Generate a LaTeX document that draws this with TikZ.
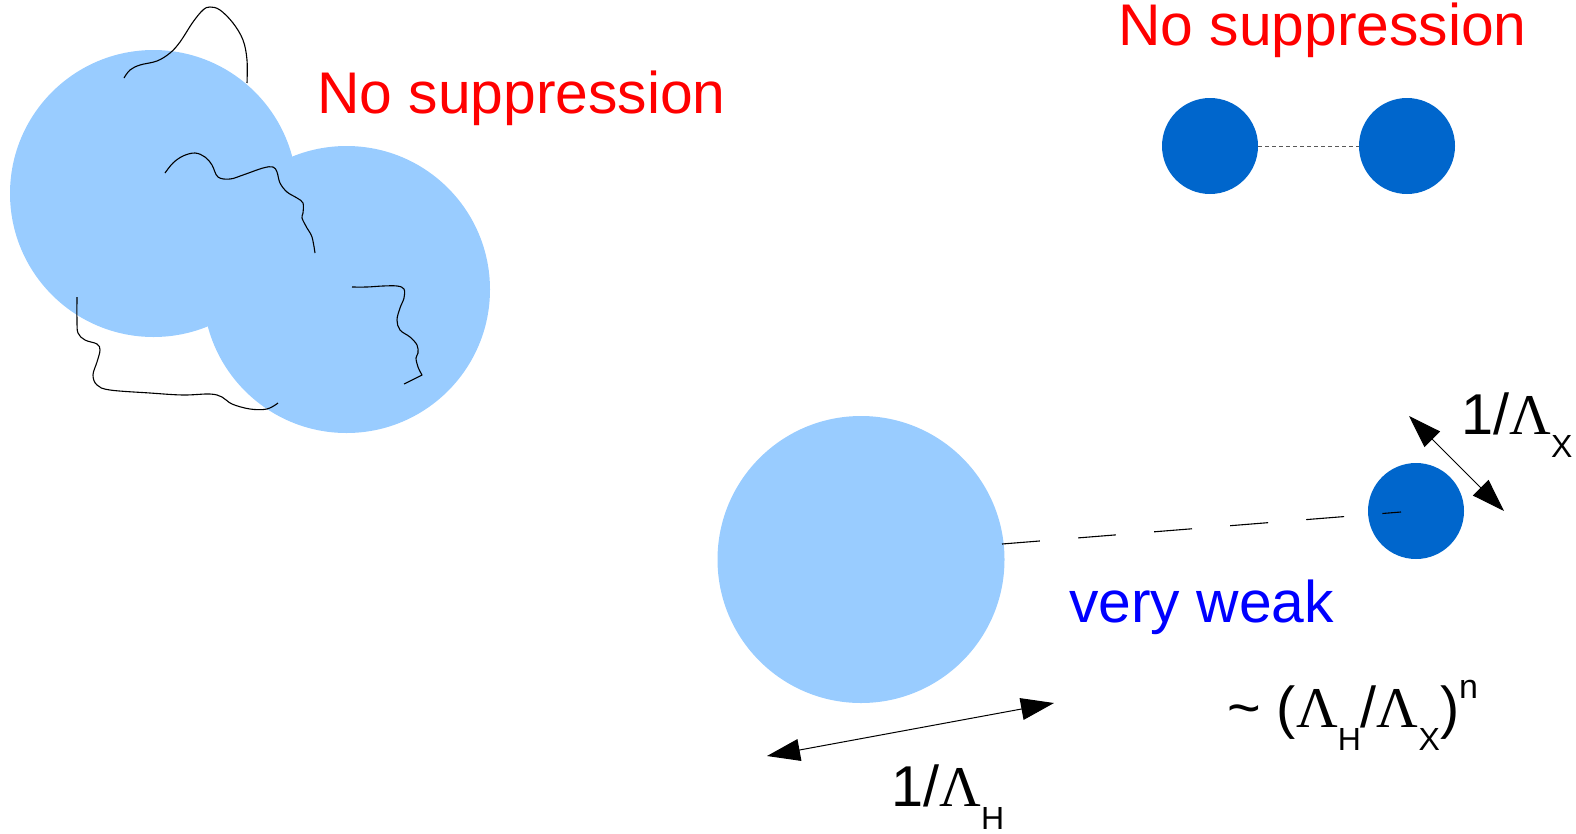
\documentclass[tikz,border=0pt]{standalone}
\usepackage{fontspec}
\setmainfont{Liberation Sans}
\newfontfamily\lamfont{Liberation Serif}
\usetikzlibrary{arrows.meta}
\definecolor{lightblob}{HTML}{99CCFF}
\definecolor{darkblob}{HTML}{0066CC}
\definecolor{supred}{HTML}{FF0000}
\definecolor{weakblue}{HTML}{0000FF}
\newcommand\subtxt[1]{\raisebox{-23.5pt}{\fontsize{32}{32}\selectfont #1}}
\newcommand\suptxt[1]{\raisebox{29pt}{\fontsize{34}{34}\selectfont #1}}
\begin{document}
\begin{tikzpicture}[x=1pt,y=-1pt,
  blob/.style={circle,inner sep=0pt,fill=lightblob,minimum size=287pt},
  core/.style={circle,inner sep=0pt,fill=darkblob,minimum size=96pt},
  lbl/.style={inner sep=0pt,anchor=base west,font=\fontsize{58.8}{60}\selectfont},
  mlbl/.style={inner sep=0pt,anchor=base west,font=\fontsize{57.6}{60}\selectfont},
  gluon/.style={line width=1.1pt,black,line join=round},
  dimarrow/.style={line width=1pt,{Triangle[length=33pt,width=22pt]}-{Triangle[length=33pt,width=22pt]}},
]
\useasboundingbox (0,0) rectangle (1576,833);

% hadrons
\node[blob] (h1) at (153.5,193.5) {};
\node[blob] (h2) at (346.5,289.5) {};
\node[blob] (h3) at (861,559.5) {};

% dark cores
\node[core] (x1) at (1210,146) {};
\node[core] (x2) at (1407,146) {};
\node[core] (x3) at (1416,511) {};

% gluon strings
\draw[gluon] plot[smooth,tension=0.6] coordinates {(124,78) (130,70) (140,65) (157,61) (170,53) (180,42) (193,22) (203,10) (210,7) (220,10) (233,23) (243,40) (247,60) (247,83)};
\draw[gluon] plot[smooth,tension=0.6] coordinates {(165,173) (173,163) (183,156) (195,153) (205,157) (212,165) (218,177) (230,179) (243,175) (263,168) (273,167) (277,172) (280,183) (287,192) (297,198) (303,203) (303,213) (302,218) (307,228) (312,237) (315,253)};
\draw[gluon] plot[smooth,tension=0.6] coordinates {(352,287) (367,287) (383,286) (397,286) (404,289) (404,298) (400,308) (397,320) (400,330) (410,337) (417,345) (418,353) (416,358) (418,367) (422,375)} -- (404,384);
\draw[gluon] plot[smooth,tension=0.6] coordinates {(77,297) (77,320) (78,333) (85,340) (97,344) (100,350) (97,362) (93,375) (97,385) (110,390) (150,393) (183,395) (210,394) (222,397) (232,404) (250,409) (267,409) (278,403)};

% dotted bond between cores
\draw[line width=1pt,color=black!65,dash pattern=on 4pt off 3pt] (x1.east) -- (x2.west);

% dashed weak link
\coordinate (wa) at (1002,544);
\coordinate (wb) at (1401,512);
\draw[line width=1.1pt,dash pattern=on 38pt off 38.3pt] (wa) -- (wb);

% dimension arrows
\coordinate (ha) at (767,756);
\coordinate (hb) at (1054,703);
\draw[dimarrow] (ha) -- (hb);
\coordinate (xa) at (1409,416);
\coordinate (xb) at (1504,511);
\draw[dimarrow] (xa) -- (xb);

% labels
\node[lbl,text=supred] (ns1) at (317,113) {No suppression};
\node[lbl,text=supred] (ns2) at (1118,45) {No suppression};
\node[lbl,text=weakblue] (vw) at (1069,622) {very weak};
\node[mlbl] (lh) at (891,806) {1/{\lamfont Λ}\subtxt{H}};
\node[mlbl] (lx) at (1461,434) {1/{\lamfont Λ}\subtxt{X}};
\node[mlbl] (ratio) at (1227,727) {\textasciitilde\ ({\lamfont Λ}\subtxt{H}/{\lamfont Λ}\subtxt{X})\suptxt{n}};
\end{tikzpicture}
\end{document}
